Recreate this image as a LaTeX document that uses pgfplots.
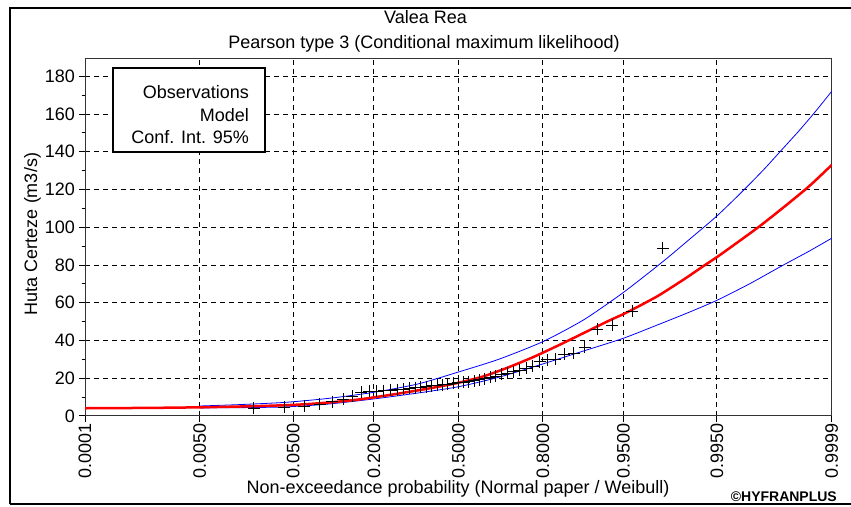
\documentclass[border=0pt]{standalone}
\usepackage{pgfplots}
\pgfplotsset{compat=1.18}
\usepackage{fontspec}
\setmainfont{Liberation Sans}
\newcommand{\fs}{\fontsize{18}{21}\selectfont}
\begin{document}
\begin{tikzpicture}[x=1pt,y=1pt]
\useasboundingbox (0,0) rectangle (851,506);
\begin{axis}[
  at={(85pt,90pt)}, anchor=south west, scale only axis,
  width=746.7pt, height=357.3pt,
  xmin=-3.719, xmax=3.719, ymin=0, ymax=189.3,
  xtick={-3.719,-2.576,-1.645,-0.8416,0,0.8416,1.645,2.576,3.719},
  xticklabels={0.0001,0.0050,0.0500,0.2000,0.5000,0.8000,0.9500,0.9950,0.9999},
  ytick={0,20,...,180}, minor ytick={10,30,...,170},
  tick pos=left, tick align=outside,
  major tick length=6pt, minor tick length=3pt,
  grid=major,
  major grid style={black, line width=1pt, dash pattern=on 5pt off 4pt},
  axis line style={black!80, line width=1pt},
  every tick/.style={black, line width=1pt},
  /pgf/number format/assume math mode=true,
  ticklabel style={font=\fs, inner sep=0pt},
  xticklabel style={rotate=90, anchor=east},
  yticklabel style={anchor=east},
  xticklabel shift=1pt, yticklabel shift=4pt,
  clip=true,
]
% lower confidence bound
\addplot[blue, line width=0.8pt, smooth, tension=0.4] coordinates {
(-2.576,4.3) (-2.2,4.4) (-1.732,4.8) (-1.3,6.3) (-0.847,9.0) (-0.4,12.2) (0,15.5)
(0.4,20.5) (0.842,27.6) (1.25,34.5) (1.645,41.2) (2.0,48.6) (2.3,55) (2.576,61.3)
(2.9,70) (3.221,79.5) (3.5,87.5) (3.719,94.2)};
% upper confidence bound
\addplot[blue, line width=0.8pt, smooth, tension=0.4] coordinates {
(-2.576,5.3) (-2.2,6.0) (-1.732,7.2) (-1.3,9.3) (-0.847,12.5) (-0.4,17.0) (0,23.3)
(0.4,30) (0.842,39.4) (1.25,51) (1.645,65.5) (2.042,82) (2.3,93.5) (2.576,106)
(2.839,119.5) (3.05,131) (3.221,141) (3.4,151.5) (3.56,161.5) (3.719,172)};
% model
\addplot[red, line width=2.5pt, smooth, tension=0.4] coordinates {
(-3.719,4.1) (-3.07,4.3) (-2.576,4.6) (-2.2,5.0) (-1.9,5.4) (-1.6,6.0) (-1.3,7.1)
(-1.0,8.7) (-0.7,11.0) (-0.4,13.6) (-0.2,15.5) (0,17.6) (0.25,21.0) (0.5,25.8)
(0.75,31.3) (1.0,37.5) (1.25,44) (1.5,50.5) (1.645,54) (1.81,58.5) (2.0,64)
(2.25,72.5) (2.457,80) (2.576,84.2) (2.75,90.8) (3.0,100.5) (3.25,111) (3.5,122) (3.719,133)};
% observations
\addplot[only marks, mark=+, mark size=6pt, black, line width=0.8pt] coordinates {
(-2.037,4.1) (-1.732,4.6) (-1.534,5.2) (-1.383,6.2) (-1.258,7.6) (-1.150,9.0)
(-1.055,10.5) (-0.967,12.5) (-0.887,13.0) (-0.812,13.2) (-0.742,13.4) (-0.674,13.8)
(-0.610,14.0) (-0.549,14.3) (-0.489,14.6) (-0.431,15.0) (-0.374,15.3) (-0.319,15.6)
(-0.264,16.0) (-0.210,16.3) (-0.157,16.6) (-0.105,17.0) (-0.052,17.3) (0,17.6)
(0.052,17.8) (0.105,18.2) (0.157,18.6) (0.210,19.2) (0.264,19.8) (0.319,20.4)
(0.374,21.2) (0.431,22.0) (0.489,22.8) (0.549,23.5) (0.610,24.4) (0.674,25.2)
(0.742,26.5) (0.812,28.8) (0.887,29.8) (0.967,30.2) (1.055,32.6) (1.150,33.2)
(1.258,36.4) (1.383,45.9) (1.534,48.2) (1.732,55.6) (2.037,88.9)};
\end{axis}
% outer frame
\draw[line width=2pt] (10.3,1.7) -- (10.3,498.3) -- (851,498.3);
\draw[line width=2pt] (10.3,1.7) -- (851,1.7);
% legend
\draw[line width=1.5pt, fill=white] (113,354) rectangle (265,438);
\node[font=\fs, anchor=base east, inner sep=0pt] at (249,407) {Observations};
\node[font=\fs, anchor=base east, inner sep=0pt] at (249,384.7) {Model};
\node[font=\fs, anchor=base east, inner sep=0pt] at (249,362.3) {Conf. Int. 95\%};
% titles and labels
\node[font=\fs, anchor=base, inner sep=0pt] at (425.5,482) {Valea Rea};
\node[font=\fs, anchor=base, inner sep=0pt] at (424,457) {Pearson type 3 (Conditional maximum likelihood)};
\node[font=\fs, anchor=base, inner sep=0pt] at (458,13) {Non-exceedance probability (Normal paper / Weibull)};
\node[font=\fs, anchor=base, inner sep=0pt, rotate=90] at (37,272) {Huta Certeze (m3/s)};
\node[font=\fontsize{14}{16}\selectfont\bfseries, anchor=base east, inner sep=0pt] at (837,5) {\textcopyright HYFRANPLUS};
\end{tikzpicture}
\end{document}
